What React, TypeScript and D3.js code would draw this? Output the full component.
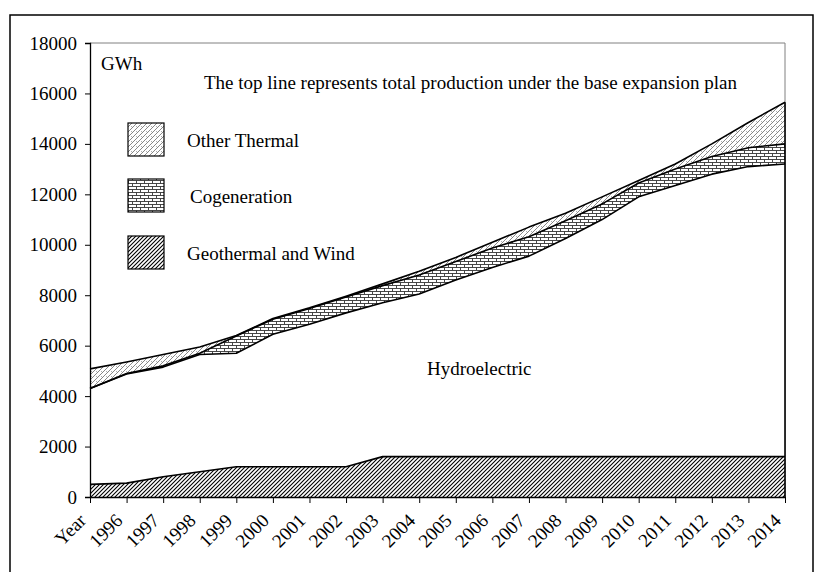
import React, { useEffect, useRef } from 'react';
import * as d3 from 'd3';

// Category labels (first point sits on the "Year" tick, like the original)
const categories = ['Year', '1996', '1997', '1998', '1999', '2000', '2001', '2002', '2003', '2004',
  '2005', '2006', '2007', '2008', '2009', '2010', '2011', '2012', '2013', '2014'];

// GWh per source (stacked bottom to top)
const geothermalWind = [500, 550, 800, 1000, 1200, 1200, 1200, 1200, 1600, 1600,
  1600, 1600, 1600, 1600, 1600, 1600, 1600, 1600, 1600, 1600];
const hydroelectric = [3800, 4330, 4350, 4650, 4500, 5250, 5650, 6100, 6100, 6450,
  7000, 7500, 7950, 8650, 9400, 10300, 10750, 11200, 11500, 11600];
const cogeneration = [0, 20, 50, 50, 680, 600, 620, 630, 680, 750,
  740, 770, 770, 700, 620, 550, 650, 700, 750, 800];
const otherThermal = [780, 450, 450, 250, 20, 30, 30, 30, 70, 150,
  160, 230, 380, 300, 280, 100, 200, 500, 1000, 1650];

const yTicks = [0, 2000, 4000, 6000, 8000, 10000, 12000, 14000, 16000, 18000];

const legendItems = [
  { label: 'Other Thermal', fill: 'url(#pat-other)' },
  { label: 'Cogeneration', fill: 'url(#pat-cogen)' },
  { label: 'Geothermal and Wind', fill: 'url(#pat-geo)' },
];

const FONT = '"Liberation Serif", "Times New Roman", serif';

export default function App() {
  const svgRef = useRef<SVGSVGElement>(null);

  useEffect(() => {
    if (!svgRef.current) return;
    const svg = d3.select(svgRef.current);
    svg.selectAll('*').remove();

    const left = 90, right = 785, top = 43, bottom = 497;

    const x = d3.scalePoint<string>().domain(categories).range([left, right]);
    const y = d3.scaleLinear().domain([0, 18000]).range([bottom, top]);

    // patterns
    const defs = svg.append('defs');
    const geo = defs.append('pattern').attr('id', 'pat-geo')
      .attr('patternUnits', 'userSpaceOnUse').attr('width', 4).attr('height', 4);
    geo.append('rect').attr('width', 4).attr('height', 4).attr('fill', '#fff');
    geo.append('path').attr('d', 'M-1,1 l2,-2 M0,4 l4,-4 M3,5 l2,-2')
      .attr('stroke', '#000').attr('stroke-width', 1.1);

    const cogen = defs.append('pattern').attr('id', 'pat-cogen')
      .attr('patternUnits', 'userSpaceOnUse').attr('width', 8).attr('height', 6);
    cogen.append('rect').attr('width', 8).attr('height', 6).attr('fill', '#fff');
    cogen.append('path').attr('d', 'M0,0.5 H8 M0,3.5 H8 M0.5,0.5 V3.5 M4.5,3.5 V6.5')
      .attr('stroke', '#333').attr('stroke-width', 0.9).attr('fill', 'none');

    const other = defs.append('pattern').attr('id', 'pat-other')
      .attr('patternUnits', 'userSpaceOnUse').attr('width', 5).attr('height', 5);
    other.append('rect').attr('width', 5).attr('height', 5).attr('fill', '#fff');
    other.append('path').attr('d', 'M-1,1 l2,-2 M0,5 l5,-5 M4,6 l2,-2')
      .attr('stroke', '#555').attr('stroke-width', 0.7);
    other.append('path').attr('d', 'M1,1 l1.5,1.5')
      .attr('stroke', '#777').attr('stroke-width', 0.6);

    // outer frame
    svg.append('path')
      .attr('d', 'M10,580 V15 H813 V580')
      .attr('fill', 'none').attr('stroke', '#000').attr('stroke-width', 1.5);

    // plot frame
    svg.append('path')
      .attr('d', `M${left},${top} H${right} V${bottom}`)
      .attr('fill', 'none').attr('stroke', '#808080').attr('stroke-width', 1);

    // stacked areas
    const table = categories.map((c, i) => ({
      cat: c,
      geo: geothermalWind[i],
      hydro: hydroelectric[i],
      cogen: cogeneration[i],
      other: otherThermal[i],
    }));
    const keys = ['geo', 'hydro', 'cogen', 'other'];
    const fills: Record<string, string> = {
      geo: 'url(#pat-geo)', hydro: '#fff', cogen: 'url(#pat-cogen)', other: 'url(#pat-other)',
    };
    const series = d3.stack<any>().keys(keys)(table);

    const area = d3.area<any>()
      .x(d => x(d.data.cat) as number)
      .y0(d => y(d[0]))
      .y1(d => y(d[1]));
    const line = d3.line<any>()
      .x(d => x(d.data.cat) as number)
      .y(d => y(d[1]));

    svg.append('g').selectAll('path')
      .data(series)
      .enter()
      .append('path')
        .attr('d', d => area(d) as string)
        .attr('fill', d => fills[d.key]);

    svg.append('g').selectAll('path')
      .data(series)
      .enter()
      .append('path')
        .attr('d', d => line(d) as string)
        .attr('fill', 'none')
        .attr('stroke', '#000')
        .attr('stroke-width', 1.6)
        .attr('stroke-linejoin', 'round');

    svg.append('line')
      .attr('x1', right).attr('x2', right)
      .attr('y1', y(0)).attr('y2', y(d3.sum(keys, k => (table[table.length - 1] as any)[k])))
      .attr('stroke', '#000').attr('stroke-width', 1.6);

    // axes
    const yAxis = svg.append('g')
      .attr('transform', `translate(${left},0)`)
      .call(d3.axisLeft(y).tickValues(yTicks).tickSize(5).tickPadding(8).tickFormat(d => `${d}`));
    yAxis.select('.domain').attr('stroke', '#000').attr('stroke-width', 1.3);
    yAxis.selectAll('.tick line').attr('stroke', '#000');
    yAxis.selectAll('text')
      .attr('font-family', FONT).attr('font-size', '19px').attr('fill', '#000');

    const xAxis = svg.append('g')
      .attr('transform', `translate(0,${bottom})`)
      .call(d3.axisBottom(x).tickSize(6).tickSizeOuter(0));
    xAxis.select('.domain').attr('stroke', '#000').attr('stroke-width', 1.3);
    xAxis.selectAll('.tick line').attr('stroke', '#000');
    xAxis.selectAll('text')
      .attr('font-family', FONT).attr('font-size', '19px').attr('fill', '#000')
      .attr('text-anchor', 'end')
      .attr('transform', 'translate(-8,20) rotate(-45)')
      .attr('dy', '0.35em')
      .attr('y', 0);

    // annotations
    svg.append('text')
      .attr('x', 101).attr('y', 70)
      .attr('font-family', FONT).attr('font-size', '19px')
      .text('GWh');
    svg.append('text')
      .attr('x', 204).attr('y', 89)
      .attr('font-family', FONT).attr('font-size', '19px')
      .text('The top line represents total production under the base expansion plan');
    svg.append('text')
      .attr('x', 427).attr('y', 375)
      .attr('font-family', FONT).attr('font-size', '19px')
      .text('Hydroelectric');

    // legend
    const legend = svg.append('g');
    const boxY = [123, 179, 236];
    const textX = [187, 190, 187];
    legendItems.forEach((item, i) => {
      legend.append('rect')
        .attr('x', 128).attr('y', boxY[i])
        .attr('width', 36).attr('height', 33)
        .attr('fill', item.fill)
        .attr('stroke', '#000').attr('stroke-width', 1.2);
      legend.append('text')
        .attr('x', textX[i]).attr('y', boxY[i] + 24)
        .attr('font-family', FONT).attr('font-size', '19px')
        .text(item.label);
    });
  }, []);

  return (
    <svg
      ref={svgRef}
      width={820}
      height={572}
      style={{ position: 'absolute', left: 0, top: 0, background: '#fff' }}
    />
  );
}
